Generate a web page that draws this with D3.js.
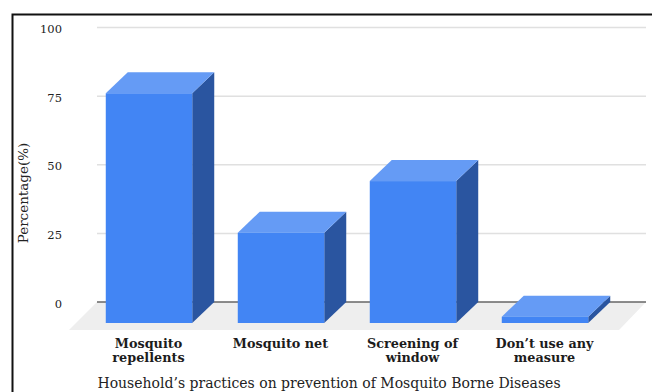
<!DOCTYPE html>
<html>
<head>
<meta charset="utf-8">
<script src="https://cdn.jsdelivr.net/npm/d3@7"></script>
<style>
  html, body { margin: 0; padding: 0; background: #fff; }
  svg { display: block; }
</style>
</head>
<body>
<svg id="chart" width="652" height="392"></svg>
<script>
const categories = ["Mosquito repellents", "Mosquito net", "Screening of window", "Don’t use any measure"];
const categoryLines = [["Mosquito", "repellents"], ["Mosquito net"], ["Screening of", "window"], ["Don’t use any", "measure"]];
const percentages = [83.7, 32.9, 51.7, 2.3];
const yTicks = [0, 25, 50, 75, 100];
const yTitle = "Percentage(%)";
const xTitle = "Household’s practices on prevention of Mosquito Borne Diseases";

const serif = "Georgia, 'DejaVu Serif', serif";
const svg = d3.select("#chart");

// Frame around the figure: open on the right and at the bottom edge
svg.append("path")
  .attr("d", "M12.5,392V14.5H652")
  .attr("fill", "none").attr("stroke", "#111").attr("stroke-width", 2);

const y = d3.scaleLinear().domain([0, 100]).range([302, 27.5]);
const x = d3.scaleBand().domain(categories).range([83, 611]).paddingInner(0.345).paddingOuter(0.1725);

// Oblique projection offset between the back wall and the front of the bars
const depthX = 22, depthY = 21;
const wallLeft = 97, wallRight = 646;

// Floor of the 3D plot
svg.append("polygon")
  .attr("points", [[wallLeft, y(0)], [wallRight, y(0)], [wallRight - 27, y(0) + 28], [wallLeft - 28, y(0) + 28]].join(" "))
  .attr("fill", "#eeeeee");

// Value labels to the left of the back wall
const yAxis = d3.axisLeft(y).tickValues(yTicks).tickSize(0).tickPadding(0).tickFormat(d3.format("d"));
const axisG = svg.append("g").attr("transform", "translate(62,1.5)").call(yAxis);
axisG.select(".domain").remove();
axisG.selectAll("text")
  .attr("font-family", serif).attr("font-size", 11.5).attr("fill", "#222");

// Gridlines on the back wall
svg.append("g").selectAll("line").data(yTicks).join("line")
  .attr("x1", wallLeft).attr("x2", wallRight)
  .attr("y1", d => y(d)).attr("y2", d => y(d))
  .attr("stroke", d => d === 0 ? "#666666" : "#e0e0e0")
  .attr("stroke-width", d => d === 0 ? 1.5 : 1.5);

// Bars: top, side and front faces
const bars = svg.append("g").selectAll("g").data(categories).join("g");
const bw = x.bandwidth();
const front = (c, i) => ({ l: x(c), r: x(c) + bw, t: y(percentages[i]) + depthY, b: y(0) + depthY });

bars.append("polygon")
  .attr("fill", "#2a55a0")
  .attr("points", (c, i) => { const f = front(c, i);
    return [[f.r, f.t], [f.r + depthX, f.t - depthY], [f.r + depthX, f.b - depthY], [f.r, f.b]].join(" "); });
bars.append("polygon")
  .attr("fill", "#659bf5")
  .attr("points", (c, i) => { const f = front(c, i);
    return [[f.l, f.t], [f.l + depthX, f.t - depthY], [f.r + depthX, f.t - depthY], [f.r, f.t]].join(" "); });
bars.append("rect")
  .attr("fill", "#4285f4")
  .attr("x", (c, i) => front(c, i).l).attr("y", (c, i) => front(c, i).t)
  .attr("width", bw).attr("height", (c, i) => front(c, i).b - front(c, i).t);

// Category labels
svg.append("g").selectAll("text").data(categories).join("text")
  .attr("text-anchor", "middle").attr("font-family", serif).attr("font-weight", "bold")
  .attr("font-size", 12.8).attr("fill", "#1c1c1c")
  .each(function (c, i) {
    d3.select(this).selectAll("tspan").data(categoryLines[i]).join("tspan")
      .attr("x", x(c) + bw / 2 - 0.5).attr("y", (d, k) => 348 + k * 14).text(d => d);
  });

// Axis titles
svg.append("text").attr("transform", "translate(28,193) rotate(-90)")
  .attr("text-anchor", "middle").attr("font-family", serif).attr("font-size", 13.5).attr("fill", "#222").text(yTitle);
svg.append("text").attr("x", 329).attr("y", 388)
  .attr("text-anchor", "middle").attr("font-family", serif).attr("font-size", 14).attr("fill", "#222").text(xTitle);
</script>
</body>
</html>
